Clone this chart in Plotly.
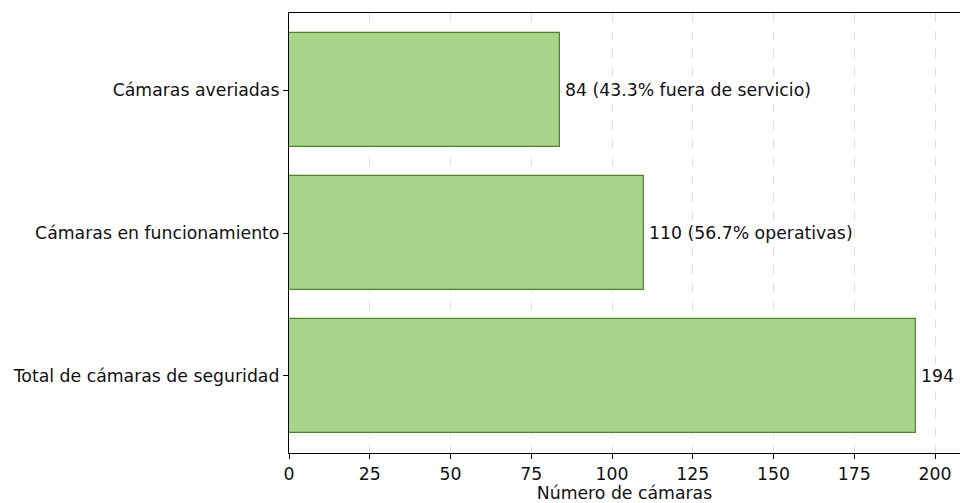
import plotly.graph_objects as go

categories = ["Total de cámaras de seguridad", "Cámaras en funcionamiento", "Cámaras averiadas"]
values = [194, 110, 84]
labels = ["194", "110 (56.7% operativas)", "84 (43.3% fuera de servicio)"]
x_ticks = [0, 25, 50, 75, 100, 125, 150, 175, 200]

FONT = "DejaVu Sans"
FS = 17.3

fig = go.Figure()
fig.add_trace(go.Bar(
    y=list(range(len(categories))),
    x=values,
    orientation="h",
    width=0.8,
    marker=dict(color="rgb(168,212,137)", line=dict(color="rgb(80,130,45)", width=1.2)),
    hoverinfo="skip",
))

for i, (v, lab) in enumerate(zip(values, labels)):
    fig.add_annotation(x=v, y=i, text=lab, showarrow=False, xanchor="left", yanchor="middle",
                       xshift=3, font=dict(family=FONT, size=FS, color="#111111"))

fig.update_layout(
    width=960, height=503,
    margin=dict(l=289, r=0, t=13, b=50, autoexpand=False),
    plot_bgcolor="white", paper_bgcolor="white",
    showlegend=False,
    font=dict(family=FONT, size=FS, color="#111111"),
    bargap=0,
)
fig.update_xaxes(
    range=[0, 207.7], tickvals=x_ticks, ticktext=[str(t) for t in x_ticks],
    ticks="outside", ticklen=5, tickwidth=1, tickcolor="black",
    showline=True, linecolor="black", linewidth=1.2, mirror=True,
    showgrid=True, gridcolor="rgb(222,222,222)", griddash="dash", gridwidth=1,
    zeroline=False, automargin=False,
    title=dict(text="Número de cámaras", font=dict(family=FONT, size=FS), standoff=4),
)
fig.update_yaxes(
    range=[-0.54, 2.54], tickvals=list(range(len(categories))), ticktext=categories,
    ticks="outside", ticklen=5, tickwidth=1, tickcolor="black",
    showline=True, linecolor="black", linewidth=1.2,
    showgrid=False, zeroline=False, automargin=False,
)

fig.write_html("out.html", config={"displayModeBar": False})

with open("out.html", "r", encoding="utf-8") as f:
    html = f.read()
html = html.replace("<head>", "<head><style>html,body{margin:0;padding:0;overflow:hidden;}</style>", 1)
with open("out.html", "w", encoding="utf-8") as f:
    f.write(html)
